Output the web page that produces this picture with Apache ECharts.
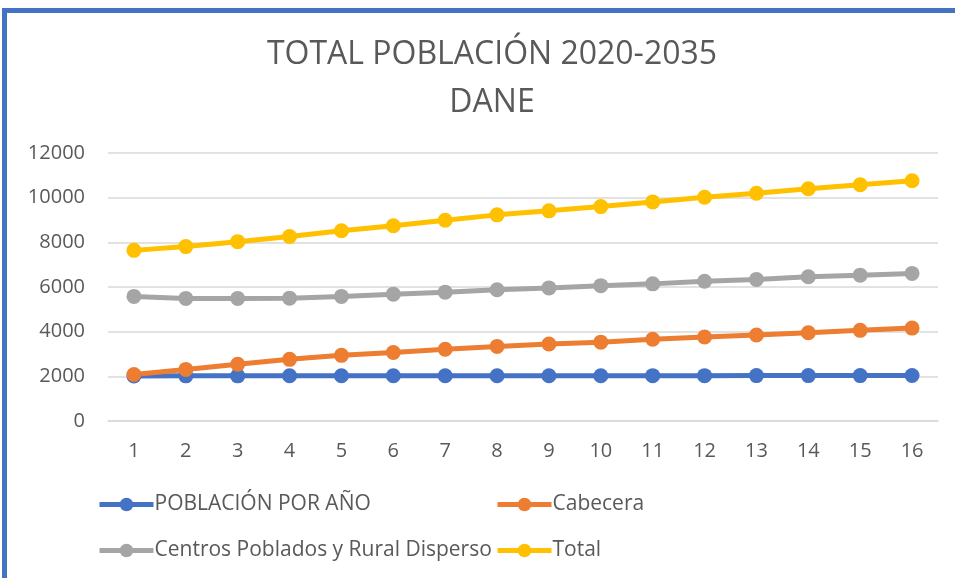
<!DOCTYPE html>
<html>
<head>
<meta charset="utf-8">
<script src="https://cdn.jsdelivr.net/npm/echarts@6/dist/echarts.min.js"></script>
<style>
  html, body { margin: 0; padding: 0; background: #fff; }
  #frame { position: absolute; left: 2px; top: 8px; width: 960px; height: 580px;
    border-left: 5px solid #4472C4; border-top: 5px solid #4472C4; }
  #chart { position: absolute; left: 0; top: 0; width: 955px; height: 578px; }
</style>
</head>
<body>
<div id="frame"></div>
<div id="chart"></div>
<script>
// años 1..16
let categorias = ['1', '2', '3', '4', '5', '6', '7', '8', '9', '10', '11', '12', '13', '14', '15', '16']
let poblacionPorAnio = [2020, 2021, 2022, 2023, 2024, 2025, 2026, 2027, 2028, 2029, 2030, 2031, 2032, 2033, 2034, 2035]
let cabecera = [2080, 2310, 2540, 2760, 2940, 3070, 3210, 3340, 3450, 3530, 3660, 3760, 3850, 3950, 4060, 4160]
let centros = [5580, 5490, 5490, 5500, 5580, 5680, 5770, 5880, 5960, 6060, 6140, 6260, 6340, 6460, 6530, 6610]
let total = [7640, 7810, 8030, 8260, 8520, 8740, 8990, 9230, 9410, 9600, 9810, 10020, 10200, 10400, 10580, 10760]
let nombres = ['POBLACIÓN POR AÑO', 'Cabecera', 'Centros Poblados y Rural Disperso', 'Total']
let colores = ['#4472C4', '#ED7D31', '#A5A5A5', '#FFC000']
let valores = [poblacionPorAnio, cabecera, centros, total]

let fuente = 'Open Sans, sans-serif'
let legendPos = [[97, 494], [495, 494], [97, 540], [495, 540]]

let myChart = echarts.init(document.getElementById('chart'))
let option = {
  title: {
    text: 'TOTAL POBLACIÓN 2020-2035\nDANE',
    left: 487,
    textAlign: 'center',
    top: 26,
    textStyle: {
      color: '#595959',
      fontFamily: fuente,
      fontWeight: 'normal',
      fontSize: 32,
      lineHeight: 48
    }
  },
  legend: nombres.map((n, i) => ({
    data: [n],
    left: legendPos[i][0],
    top: legendPos[i][1],
    padding: 0,
    itemWidth: 54,
    itemHeight: 17,
    lineStyle: { width: 5 },
    textStyle: { color: '#595959', fontSize: 21, fontFamily: fuente, padding: [0, 0, 0, -4] }
  })),
  grid: {
    left: 108,
    right: 17,
    top: 153,
    bottom: 157
  },
  xAxis: {
    type: 'category',
    boundaryGap: true,
    data: categorias,
    axisTick: { show: false },
    axisLine: { lineStyle: { color: '#D9D9D9', width: 1.5 } },
    axisLabel: { color: '#595959', fontSize: 20, fontFamily: fuente, margin: 20 }
  },
  yAxis: {
    type: 'value',
    min: 0,
    max: 12000,
    interval: 2000,
    axisLine: { show: false },
    axisTick: { show: false },
    splitLine: { lineStyle: { color: '#D9D9D9', width: 1.5 } },
    axisLabel: { color: '#595959', fontSize: 20, fontFamily: fuente, margin: 23, formatter: v => String(v) }
  },
  series: nombres.map((n, i) => ({
    name: n,
    type: 'line',
    data: valores[i],
    symbol: 'circle',
    symbolSize: 15,
    lineStyle: { width: 5, color: colores[i] },
    itemStyle: { color: colores[i] }
  }))
}
myChart.setOption(option)
</script>
</body>
</html>
